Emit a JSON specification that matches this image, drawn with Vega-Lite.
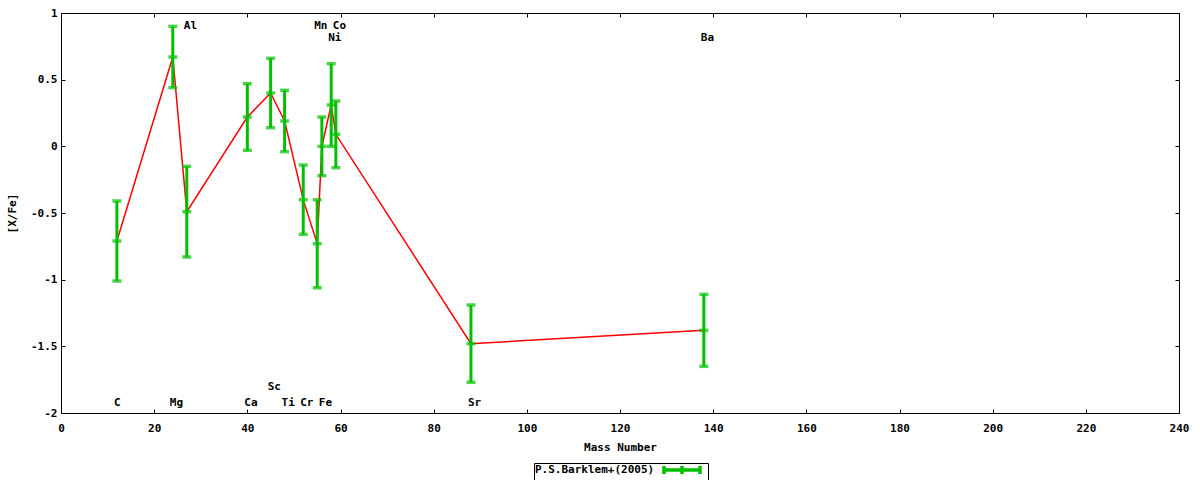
{
  "$schema": "https://vega.github.io/schema/vega-lite/v6.json",
  "width": 1118,
  "height": 400,
  "autosize": {"type": "none"},
  "padding": {"left": 61, "top": 13, "right": 21, "bottom": 67},
  "background": "white",
  "config": {
    "view": {"stroke": "#000", "strokeWidth": 1},
    "font": "DejaVu Sans Mono",
    "axis": {
      "labelFont": "DejaVu Sans Mono", "labelFontSize": 11, "labelFontWeight": "bold", "labelColor": "#000",
      "titleFont": "DejaVu Sans Mono", "titleFontSize": 11, "titleFontWeight": "bold", "titleColor": "#000",
      "grid": false, "domain": false, "tickColor": "#000", "tickSize": -4, "tickWidth": 1,
      "labelFlush": false, "labelOverlap": false
    },
    "text": {"font": "DejaVu Sans Mono", "fontSize": 11, "fontWeight": "bold", "color": "#000"}
  },
  "datasets": {
    "abund": [
      {"el": "C", "mass": 12, "val": -0.71, "lo": -1.01, "hi": -0.41, "src": "P.S.Barklem+(2005)"},
      {"el": "Mg", "mass": 24, "val": 0.67, "lo": 0.44, "hi": 0.90, "src": "P.S.Barklem+(2005)"},
      {"el": "Al", "mass": 27, "val": -0.49, "lo": -0.83, "hi": -0.15, "src": "P.S.Barklem+(2005)"},
      {"el": "Ca", "mass": 40, "val": 0.22, "lo": -0.03, "hi": 0.47, "src": "P.S.Barklem+(2005)"},
      {"el": "Sc", "mass": 45, "val": 0.40, "lo": 0.14, "hi": 0.66, "src": "P.S.Barklem+(2005)"},
      {"el": "Ti", "mass": 48, "val": 0.19, "lo": -0.04, "hi": 0.42, "src": "P.S.Barklem+(2005)"},
      {"el": "Cr", "mass": 52, "val": -0.40, "lo": -0.66, "hi": -0.14, "src": "P.S.Barklem+(2005)"},
      {"el": "Mn", "mass": 55, "val": -0.73, "lo": -1.06, "hi": -0.40, "src": "P.S.Barklem+(2005)"},
      {"el": "Fe", "mass": 56, "val": 0.0, "lo": -0.22, "hi": 0.22, "src": "P.S.Barklem+(2005)"},
      {"el": "Ni", "mass": 58, "val": 0.31, "lo": 0.0, "hi": 0.62, "src": "P.S.Barklem+(2005)"},
      {"el": "Co", "mass": 59, "val": 0.09, "lo": -0.16, "hi": 0.34, "src": "P.S.Barklem+(2005)"},
      {"el": "Sr", "mass": 88, "val": -1.48, "lo": -1.77, "hi": -1.19, "src": "P.S.Barklem+(2005)"},
      {"el": "Ba", "mass": 138, "val": -1.38, "lo": -1.65, "hi": -1.11, "src": "P.S.Barklem+(2005)"}
    ],
    "labels": [
      {"el": "C", "mass": 12, "ly": -1.926},
      {"el": "Mg", "mass": 24, "ly": -1.926},
      {"el": "Al", "mass": 27, "ly": 0.902},
      {"el": "Ca", "mass": 40, "ly": -1.926},
      {"el": "Sc", "mass": 45, "ly": -1.806},
      {"el": "Ti", "mass": 48, "ly": -1.926},
      {"el": "Cr", "mass": 52, "ly": -1.926},
      {"el": "Mn", "mass": 55, "ly": 0.902},
      {"el": "Fe", "mass": 56, "ly": -1.926},
      {"el": "Ni", "mass": 58, "ly": 0.812},
      {"el": "Co", "mass": 59, "ly": 0.902},
      {"el": "Sr", "mass": 88, "ly": -1.926},
      {"el": "Ba", "mass": 138, "ly": 0.814}
    ]
  },
  "layer": [
    {
      "data": {"name": "abund"},
      "mark": {"type": "line", "color": "#ff0000", "strokeWidth": 1.5},
      "encoding": {
        "x": {"field": "mass", "type": "quantitative", "scale": {"domain": [0, 240], "nice": false},
          "axis": {"orient": "bottom", "title": "Mass Number", "values": [0,20,40,60,80,100,120,140,160,180,200,220,240],
            "labelPadding": 13, "titleX": 559, "titleY": 34, "titleBaseline": "middle"}},
        "y": {"field": "val", "type": "quantitative", "scale": {"domain": [-2, 1], "nice": false, "zero": false},
          "axis": {"orient": "left", "title": "[X/Fe]", "values": [-2,-1.5,-1,-0.5,0,0.5,1],
            "labelExpr": "replace(format(datum.value, '~g'), '−', '-')", "labelPadding": 8,
            "titleX": -49, "titleY": 200, "titleBaseline": "middle", "titleAngle": -90}}
      }
    },
    {
      "data": {"name": "abund"},
      "mark": {"type": "rule", "strokeWidth": 3},
      "encoding": {
        "x": {"field": "mass", "type": "quantitative",
          "axis": {"orient": "top", "title": null, "labels": false, "values": [0,20,40,60,80,100,120,140,160,180,200,220,240]}},
        "y": {"field": "lo", "type": "quantitative",
          "axis": {"orient": "right", "title": null, "labels": false, "values": [-2,-1.5,-1,-0.5,0,0.5,1]}},
        "y2": {"field": "hi"},
        "color": {"field": "src", "type": "nominal", "scale": {"range": ["#00c000"]},
          "legend": {
            "orient": "none", "legendX": 473, "legendY": 450,
            "title": "P.S.Barklem+(2005)", "titleOrient": "left", "titlePadding": 7,
            "titleFont": "DejaVu Sans Mono", "titleFontSize": 11, "titleFontWeight": "bold", "titleColor": "#000",
            "titleBaseline": "top", "titleAnchor": "start", "titleLimit": 400,
            "labelExpr": "''", "labelOffset": 30, "labelFontSize": 1, "labelBaseline": "top",
            "rowPadding": 0, "symbolOffset": 0,
            "symbolType": "M-1,0H8M-1,-1V1M8,-1V1M3.5,-1V1",
            "symbolSize": 64, "symbolStrokeWidth": 3.5, "symbolFillColor": "transparent",
            "strokeColor": "#000", "padding": 1, "fillColor": "white"
          }}
      }
    },
    {
      "data": {"name": "abund"},
      "mark": {"type": "tick", "orient": "horizontal", "size": 9, "thickness": 3.5, "color": "#00c000"},
      "encoding": {
        "x": {"field": "mass", "type": "quantitative", "axis": null},
        "y": {"field": "lo", "type": "quantitative", "axis": null}
      }
    },
    {
      "data": {"name": "abund"},
      "mark": {"type": "tick", "orient": "horizontal", "size": 9, "thickness": 3.5, "color": "#00c000"},
      "encoding": {
        "x": {"field": "mass", "type": "quantitative", "axis": null},
        "y": {"field": "hi", "type": "quantitative", "axis": null}
      }
    },
    {
      "data": {"name": "abund"},
      "mark": {"type": "tick", "orient": "horizontal", "size": 9, "thickness": 3.5, "color": "#00c000"},
      "encoding": {
        "x": {"field": "mass", "type": "quantitative", "axis": null},
        "y": {"field": "val", "type": "quantitative", "axis": null}
      }
    },
    {
      "data": {"name": "labels"},
      "mark": {"type": "text", "align": "left", "baseline": "middle", "dx": -3},
      "encoding": {
        "x": {"field": "mass", "type": "quantitative", "axis": null},
        "y": {"field": "ly", "type": "quantitative", "axis": null},
        "text": {"field": "el"}
      }
    }
  ]
}
